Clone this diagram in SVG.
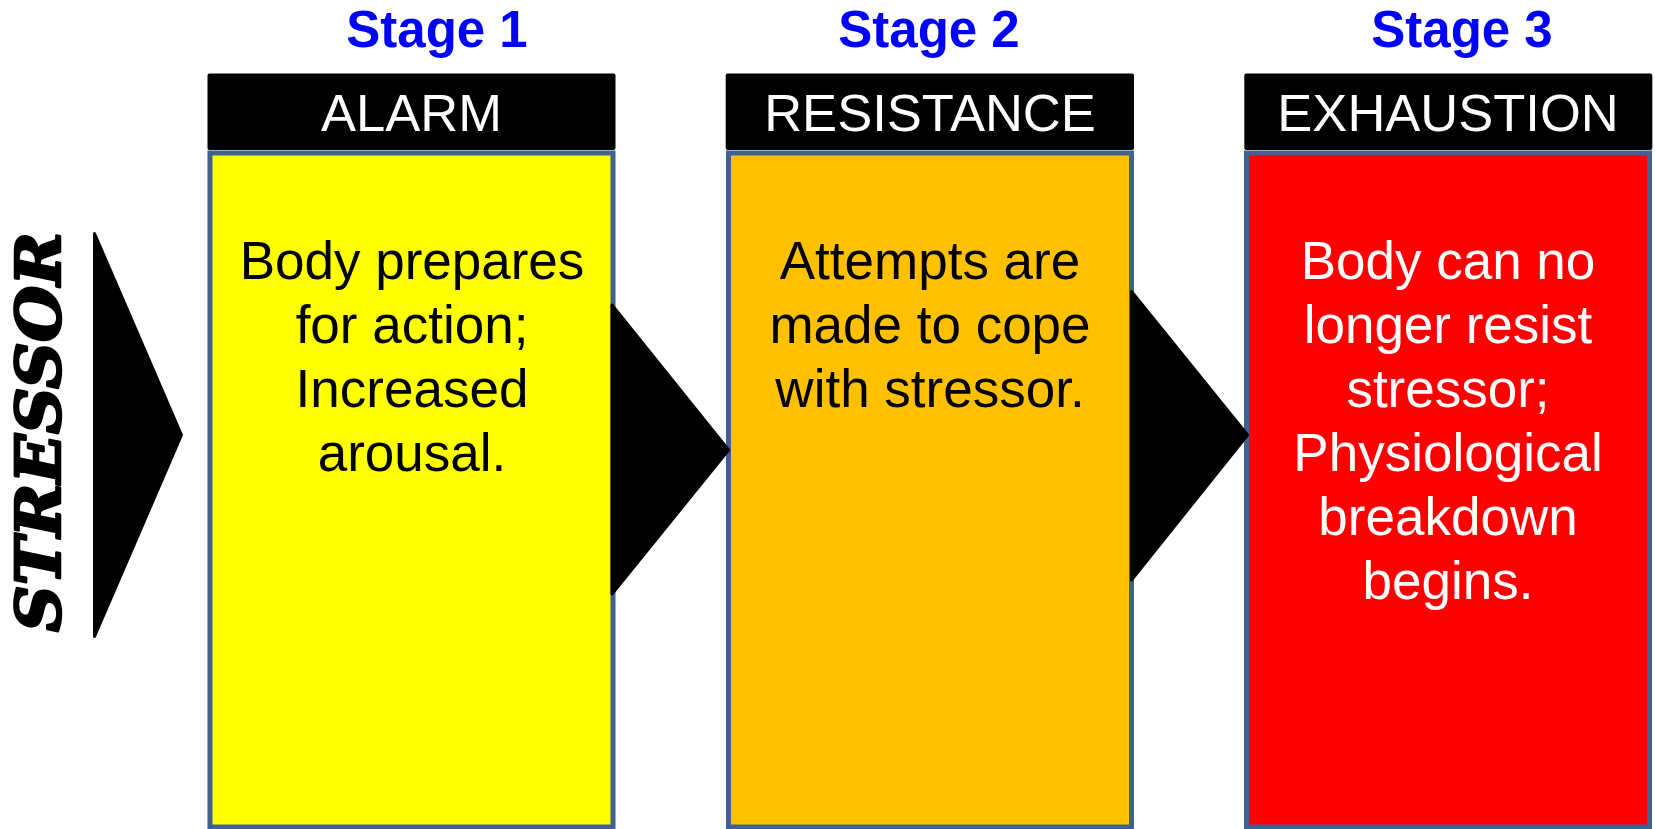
<svg xmlns="http://www.w3.org/2000/svg" width="1655" height="829" viewBox="0 0 1655 829">
<style>
.stage{font-family:"Liberation Sans",Arial,sans-serif;font-weight:bold;font-size:51px;fill:#0000FF;text-anchor:middle}
.hdr{fill:#000}
.hdrtxt{font-family:"Liberation Sans",Arial,sans-serif;font-size:52.5px;fill:#fff;text-anchor:middle}
.box{stroke:#3F6290;stroke-width:5}
.body{font-family:"Liberation Sans",Arial,sans-serif;font-size:53px;text-anchor:middle}
.arrow{fill:#000;stroke:#000;stroke-width:3;stroke-linejoin:round}
</style>
<rect width="1655" height="829" fill="#fff"/>
<g id="stressor">
<text transform="translate(60,432) rotate(-90)" font-family="'DejaVu Serif',serif" font-weight="bold" font-style="italic" font-size="62" text-anchor="middle" textLength="400" lengthAdjust="spacingAndGlyphs" fill="#000" stroke="#000" stroke-width="2.5" stroke-linejoin="round">STRESSOR</text>
</g>
<g id="stage1">
<text class="stage" x="437" y="47">Stage 1</text>
<rect class="hdr" x="207.5" y="73.5" width="408" height="76.5" rx="2"/>
<text class="hdrtxt" x="411.5" y="131">ALARM</text>
<rect class="box" x="210" y="153" width="403" height="674" fill="#FFFF00"/>
<text class="body" fill="#000"><tspan x="412" y="279">Body prepares</tspan><tspan x="412" y="343">for action;</tspan><tspan x="412" y="407">Increased</tspan><tspan x="412" y="471">arousal.</tspan></text>
</g>
<g id="stage2">
<text class="stage" x="929" y="47">Stage 2</text>
<rect class="hdr" x="725.7" y="73.5" width="408.3" height="76.5" rx="2"/>
<text class="hdrtxt" x="930" y="131">RESISTANCE</text>
<rect class="box" x="728.5" y="153" width="403" height="674" fill="#FFC000"/>
<text class="body" fill="#000"><tspan x="930" y="279">Attempts are</tspan><tspan x="930" y="343">made to cope</tspan><tspan x="930" y="407">with stressor.</tspan></text>
</g>
<g id="stage3">
<text class="stage" x="1462" y="47">Stage 3</text>
<rect class="hdr" x="1244.3" y="73.5" width="408" height="76.5" rx="2"/>
<text class="hdrtxt" x="1448" y="131">EXHAUSTION</text>
<rect class="box" x="1246.5" y="153" width="403" height="674" fill="#FF0000"/>
<text class="body" fill="#fff"><tspan x="1448" y="279">Body can no</tspan><tspan x="1448" y="343">longer resist</tspan><tspan x="1448" y="407">stressor;</tspan><tspan x="1448" y="471">Physiological</tspan><tspan x="1448" y="535">breakdown</tspan><tspan x="1448" y="599">begins.</tspan></text>
</g>
<g id="connectors">
<polygon class="arrow" points="94.5,233.5 181.5,435 94.5,636.5"/>
<polygon class="arrow" points="612,305 728.5,450 612,594"/>
<polygon class="arrow" points="1131.5,291.5 1247.5,435 1131.5,580"/>
</g>
</svg>
